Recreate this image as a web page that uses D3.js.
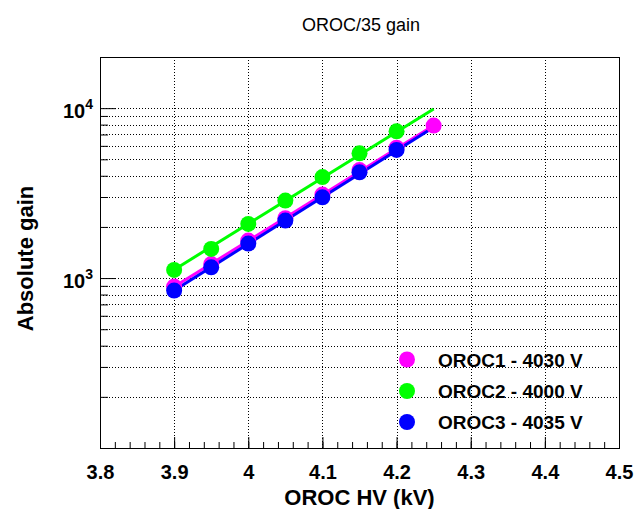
<!DOCTYPE html>
<html>
<head>
<meta charset="utf-8">
<script src="https://cdn.jsdelivr.net/npm/d3@7"></script>
<style>
  html, body { margin: 0; padding: 0; background: #fff; }
  svg { display: block; font-family: "Liberation Sans", Arial, sans-serif; }
</style>
</head>
<body>
<svg id="chart" width="636" height="509"></svg>
<script>
// Measured HV points (kV) and absolute gain for each OROC
const hvPoints = [3.9, 3.95, 4.0, 4.05, 4.1, 4.15, 4.2];
const hvPointsOroc1 = [3.9, 3.95, 4.0, 4.05, 4.1, 4.15, 4.2, 4.25];
const gainOroc1 = [891, 1209, 1662, 2253, 3099, 4319, 5856, 7894];
const gainOroc2 = [1117, 1485, 2084, 2857, 3928, 5421, 7304];
const gainOroc3 = [844, 1157, 1596, 2179, 2988, 4193, 5677];

// Exponential fit curves: gain at both ends of the fit range
const fitRange = [3.9, 4.25];
const fitOroc1 = [888, 7900];
const fitOroc2 = [1120, 9890];
const fitOroc3 = [846, 7710];

const seriesNames = ["OROC1 - 4030 V", "OROC2 - 4000 V", "OROC3 - 4035 V"];
const seriesColors = ["#ff00ff", "#00ff00", "#0000ff"];

// Axis ticks
const xMajorTicks = [3.8, 3.9, 4.0, 4.1, 4.2, 4.3, 4.4, 4.5];
const xTickLabels = ["3.8", "3.9", "4", "4.1", "4.2", "4.3", "4.4", "4.5"];
const yMajorTicks = [1000, 10000];
const yTickExponents = ["3", "4"];
const yMinorTicks = [200, 300, 400, 500, 600, 700, 800, 900,
                     2000, 3000, 4000, 5000, 6000, 7000, 8000, 9000];

const svg = d3.select("#chart");
const frame = { left: 100, right: 619, top: 57, bottom: 448 };

const x = d3.scaleLinear().domain([3.8, 4.5]).range([frame.left, frame.right]);
const y = d3.scaleLog().domain([100, 20000]).range([frame.bottom, frame.top]);

// Dotted grid
const grid = svg.append("g").attr("stroke", "#000").attr("stroke-width", 1)
  .attr("stroke-dasharray", "1,2").attr("shape-rendering", "crispEdges");
grid.selectAll("line.gx").data(xMajorTicks.slice(1, -1)).join("line")
  .attr("x1", d => Math.round(x(d)) + 0.5).attr("x2", d => Math.round(x(d)) + 0.5)
  .attr("y1", frame.top).attr("y2", frame.bottom);
grid.selectAll("line.gy").data(yMajorTicks.concat(yMinorTicks)).join("line")
  .attr("x1", frame.left).attr("x2", frame.right)
  .attr("y1", d => Math.round(y(d)) + 0.5).attr("y2", d => Math.round(y(d)) + 0.5);

// X axis: major ticks every 0.1, minor every 0.02
const xAxis = d3.axisBottom(x).tickValues(xMajorTicks).tickSize(-11)
  .tickFormat((d, i) => xTickLabels[i]);
const xMinor = d3.range(0, 36).map(i => 3.8 + i * 0.02);
const gxMinor = svg.append("g").attr("transform", `translate(0,${frame.bottom})`)
  .call(d3.axisBottom(x).tickValues(xMinor).tickSize(-6).tickFormat(""));
gxMinor.select(".domain").remove();
gxMinor.selectAll("line").attr("stroke", "#000");
const gx = svg.append("g").attr("transform", `translate(0,${frame.bottom})`).call(xAxis);
gx.select(".domain").remove();
gx.selectAll("line").attr("stroke", "#000");
gx.selectAll("text").attr("y", 10).attr("dy", "1.05em")
  .attr("font-size", 20).attr("font-weight", "bold")
  .attr("font-family", "Liberation Sans, Arial, sans-serif").attr("fill", "#000");

// Y axis (log): decade ticks long, intermediate ticks short
const gyMinor = svg.append("g").attr("transform", `translate(${frame.left},0)`)
  .call(d3.axisLeft(y).tickValues(yMinorTicks).tickSize(-8).tickFormat(""));
gyMinor.select(".domain").remove();
gyMinor.selectAll("line").attr("stroke", "#000");
const gy = svg.append("g").attr("transform", `translate(${frame.left},0)`)
  .call(d3.axisLeft(y).tickValues(yMajorTicks).tickSize(-16).tickFormat(""));
gy.select(".domain").remove();
gy.selectAll("line").attr("stroke", "#000");

const yLabels = svg.append("g");
yMajorTicks.forEach((v, i) => {
  const t = yLabels.append("text")
    .attr("x", 93).attr("y", y(v) + 10)
    .attr("text-anchor", "end").attr("font-weight", "bold").attr("fill", "#000");
  t.append("tspan").attr("font-size", 20).text("10");
  t.append("tspan").attr("font-size", 14).attr("dy", -9).text(yTickExponents[i]);
});

// Frame
svg.append("rect")
  .attr("x", frame.left + 0.5).attr("y", frame.top + 0.5)
  .attr("width", frame.right - frame.left).attr("height", frame.bottom - frame.top)
  .attr("fill", "none").attr("stroke", "#000").attr("stroke-width", 1);

// Fit lines
const line = d3.line().x(d => x(d[0])).y(d => y(d[1]));
const fits = [fitOroc1, fitOroc2, fitOroc3];
const plot = svg.append("g");
fits.forEach((f, i) => {
  plot.append("path")
    .datum(fitRange.map((v, k) => [v, f[k]]))
    .attr("d", line).attr("fill", "none")
    .attr("stroke", seriesColors[i]).attr("stroke-width", 3);
});

// Markers
const series = [
  hvPointsOroc1.map((v, k) => [v, gainOroc1[k]]),
  hvPoints.map((v, k) => [v, gainOroc2[k]]),
  hvPoints.map((v, k) => [v, gainOroc3[k]])
];
series.forEach((s, i) => {
  plot.append("g").selectAll("circle").data(s).join("circle")
    .attr("cx", d => x(d[0])).attr("cy", d => y(d[1])).attr("r", 8)
    .attr("fill", seriesColors[i]);
});

// Legend
const legend = svg.append("g");
const legendRows = [359.5, 391, 422];
seriesNames.forEach((name, i) => {
  legend.append("circle").attr("cx", 407).attr("cy", legendRows[i]).attr("r", 8)
    .attr("fill", seriesColors[i]);
  legend.append("text").attr("x", 438).attr("y", legendRows[i] + 7)
    .attr("font-size", 19).attr("font-weight", "bold").attr("fill", "#000")
    .text(name);
});

// Titles
svg.append("text").attr("x", 361).attr("y", 31)
  .attr("text-anchor", "middle").attr("font-size", 18).attr("fill", "#000")
  .text("OROC/35 gain");
svg.append("text").attr("x", (frame.left + frame.right) / 2).attr("y", 505)
  .attr("text-anchor", "middle").attr("font-size", 22).attr("font-weight", "bold")
  .attr("fill", "#000").text("OROC HV (kV)");
svg.append("text")
  .attr("transform", `translate(33,${(frame.top + frame.bottom) / 2 + 6}) rotate(-90)`)
  .attr("text-anchor", "middle").attr("font-size", 22).attr("font-weight", "bold")
  .attr("fill", "#000").text("Absolute gain");
</script>
</body>
</html>
